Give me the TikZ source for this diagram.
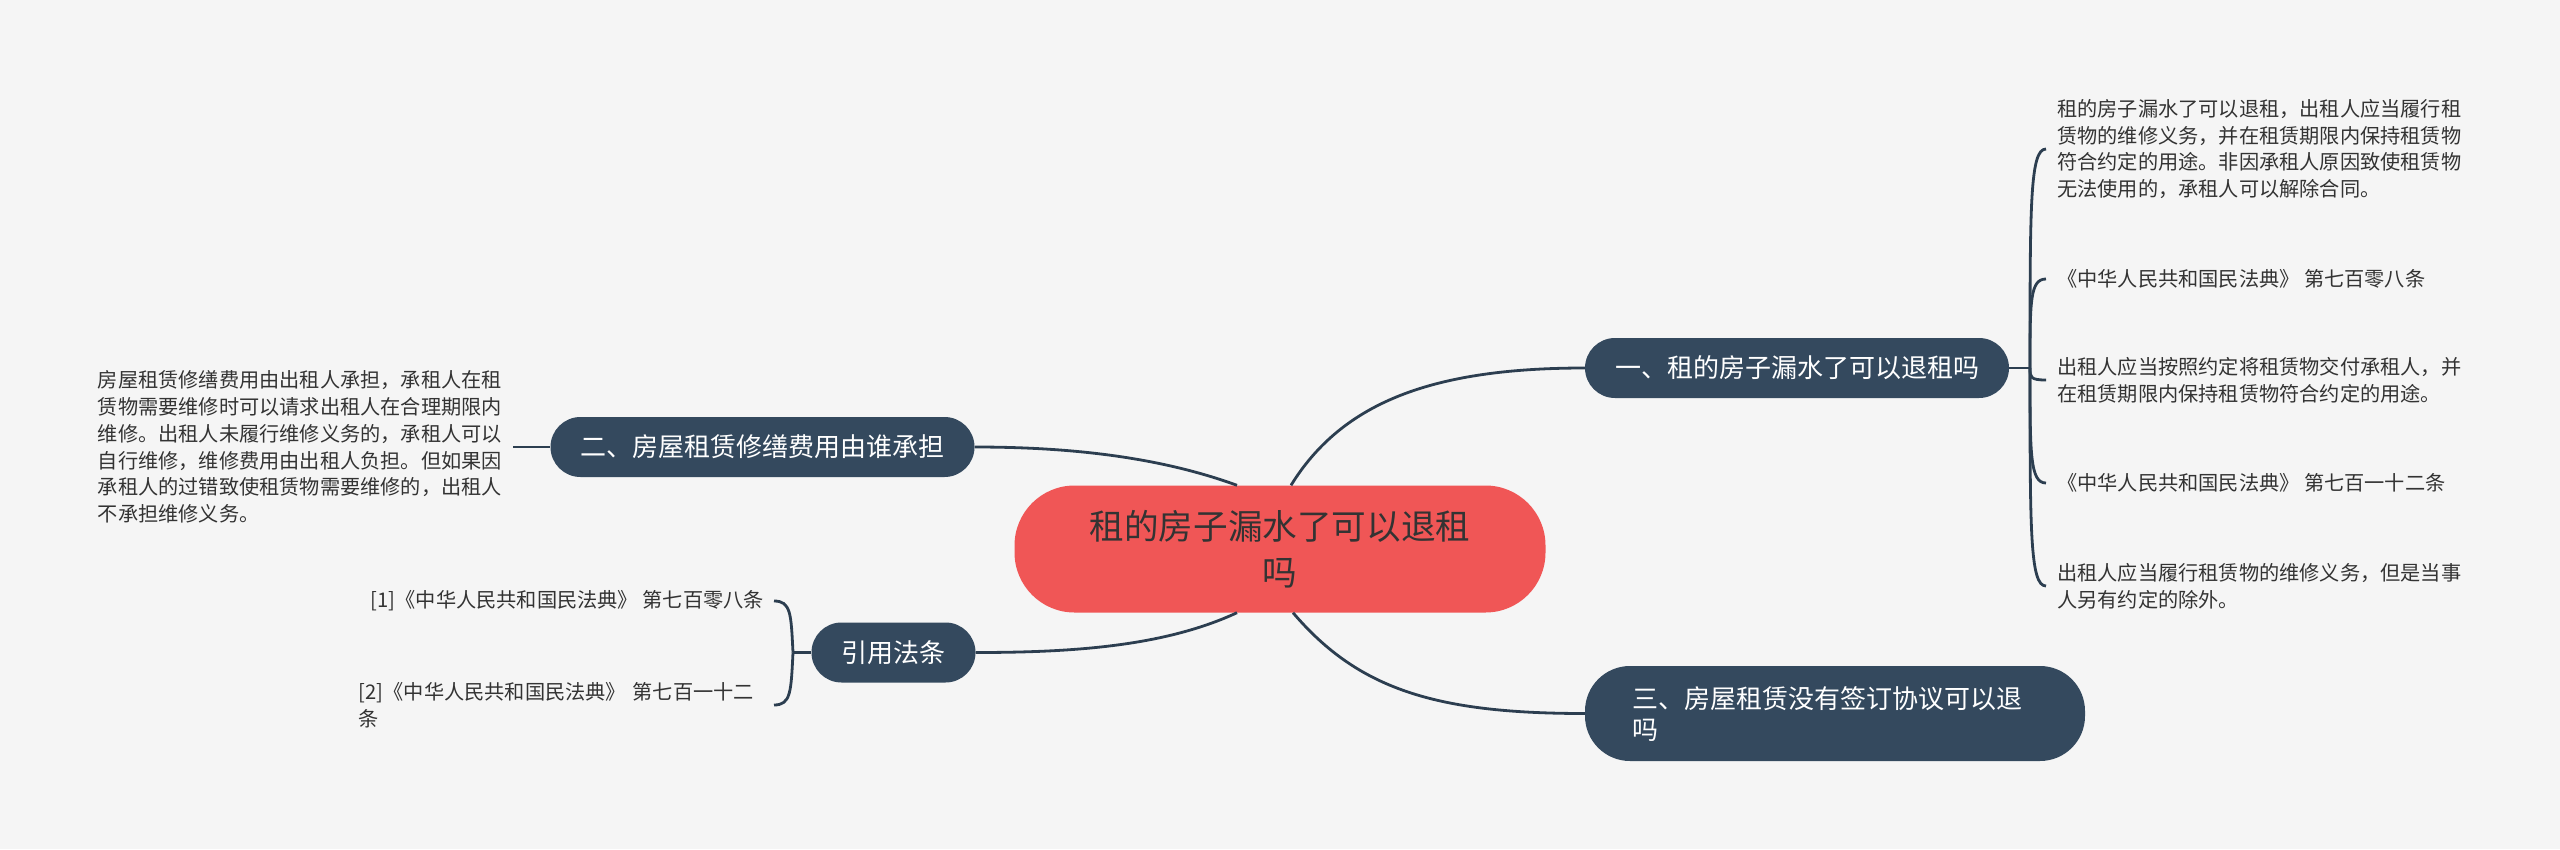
\documentclass[tikz,border=0pt]{standalone}
\usepackage{fontspec}
\setmainfont{Noto Sans CJK SC}
\usepackage{tikz}
\usepackage{xcolor}
\definecolor{bggray}{HTML}{F5F5F5}
\definecolor{rootred}{HTML}{F05656}
\definecolor{topicblue}{HTML}{34495E}
\definecolor{linkblue}{HTML}{2C3E50}
\definecolor{txtgray}{HTML}{333333}

\begin{document}
\begin{tikzpicture}[
  x=1pt, y=-1pt,
  root/.style={rectangle, rounded corners=60pt, fill=rootred,
               minimum width=531pt, minimum height=127pt, inner sep=0pt,
               text=txtgray, align=center,
               font=\fontsize{34.6}{46}\selectfont},
  topic/.style={rectangle, rounded corners=30pt, fill=topicblue,
                minimum height=60pt, inner xsep=30pt, inner ysep=0pt,
                text=white, font=\fontsize{26}{31}\selectfont},
  leaf/.style={inner xsep=11pt, inner ysep=0pt, text=txtgray, align=left,
               font=\fontsize{20.2}{26.8}\selectfont},
  link/.style={draw=linkblue, line width=2.8pt},
]
\useasboundingbox[fill=bggray] (0,0) rectangle (2560,849);

% Centre
\node[root] (root) at (1280,549) {租的房子漏水了可以退租\\吗};

% Main topics
\node[topic] (b1) at (1797,368) {一、租的房子漏水了可以退租吗};
\node[topic] (b2) at (762.5,447) {二、房屋租赁修缮费用由谁承担};
\node[topic] (b3) at (893.5,652.5) {引用法条};
\node[topic, rounded corners=45pt, minimum width=500pt, minimum height=95pt,
      text width=406pt, align=left] (b4) at (1835,713.5)
      {三、房屋租赁没有签订协议可以退\\吗};

% Right leaves of topic one
\node[leaf, anchor=west] (r1) at (2046,149)
  {租的房子漏水了可以退租，出租人应当履行租\\赁物的维修义务，并在租赁期限内保持租赁物\\符合约定的用途。非因承租人原因致使租赁物\\无法使用的，承租人可以解除合同。};
\node[leaf, anchor=west] (r2) at (2046,279) {《中华人民共和国民法典》 第七百零八条};
\node[leaf, anchor=west] (r3) at (2046,380)
  {出租人应当按照约定将租赁物交付承租人，并\\在租赁期限内保持租赁物符合约定的用途。};
\node[leaf, anchor=west] (r4) at (2046,483) {《中华人民共和国民法典》 第七百一十二条};
\node[leaf, anchor=west] (r5) at (2046,586)
  {出租人应当履行租赁物的维修义务，但是当事\\人另有约定的除外。};

% Left leaf of topic two
\node[leaf, anchor=east] (l2) at (513,447)
  {房屋租赁修缮费用由出租人承担，承租人在租\\赁物需要维修时可以请求出租人在合理期限内\\维修。出租人未履行维修义务的，承租人可以\\自行维修，维修费用由出租人负担。但如果因\\承租人的过错致使租赁物需要维修的，出租人\\不承担维修义务。};

% Cited laws
\node[leaf, anchor=east, inner xsep=10pt] (law1) at (774,601)
  {[1]《中华人民共和国民法典》 第七百零八条};
\node[leaf, anchor=east, inner xsep=10pt, text width=405pt] (law2) at (774,705)
  {[2]《中华人民共和国民法典》 第七百一十二\\条};

% Links from the centre
\draw[link] ([xshift=11pt]root.north) .. controls (1343,401) and (1435,368) .. (b1.west);
\draw[link] ([xshift=-43pt]root.north) .. controls (1162,458) and (1075,447) .. (b2.east);
\draw[link] ([xshift=-43pt]root.south) .. controls (1165,646) and (1075,652.5) .. (b3.east);
\draw[link] ([xshift=13pt]root.south) .. controls (1358,689) and (1435,713.5) .. (b4.west);

% Bracket of topic one
\coordinate (j1) at (2030,368);
\draw[link] (b1.east) -- (j1);
\foreach \n/\y in {r1/149, r2/279, r3/380, r4/483, r5/586}
  \draw[link] (j1) .. controls (2030,{0.75*\y+92}) and (2030,\y) .. (\n.west);

% Topic two to its leaf
\draw[link] (l2.east) -- (b2.west);

% Bracket of cited laws
\coordinate (j3) at (793,652.5);
\draw[link] (b3.west) -- (j3);
\foreach \n/\y in {law1/601, law2/705}
  \draw[link] (j3) .. controls (791,{0.75*\y+163}) and (791,\y) .. (\n.east);
\end{tikzpicture}
\end{document}
